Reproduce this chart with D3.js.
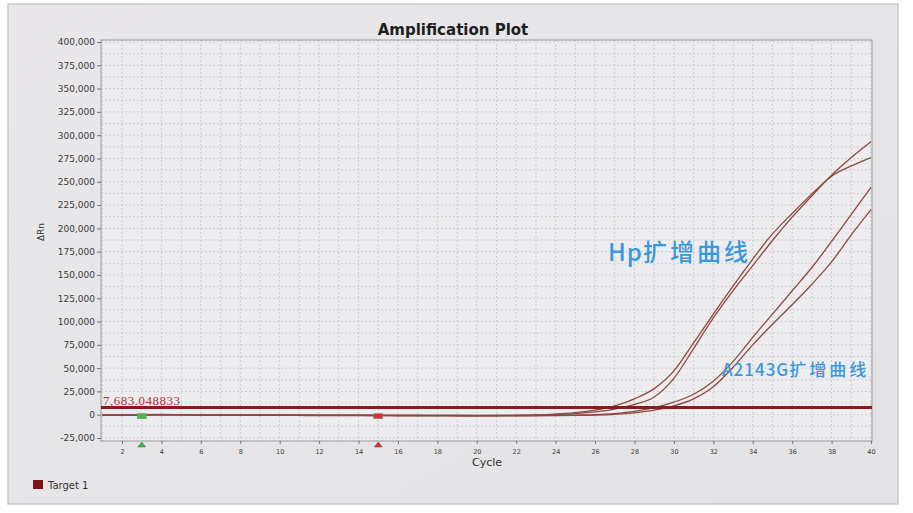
<!DOCTYPE html>
<html>
<head>
<meta charset="utf-8">
<script src="https://cdn.jsdelivr.net/npm/d3@7"></script>
<style>
  html, body { margin: 0; padding: 0; background: #ffffff; }
  svg { display: block; }
</style>
</head>
<body>
<svg id="chart" width="913" height="513"></svg>
<script>
// ---------- data ----------
const cycles = d3.range(1, 41);
const hpCurve1 = [-300,-200,0,100,0,-100,-200,-300,-300,-400,-400,-500,-500,-600,-600,-700,-700,-800,-800,-900,-800,-600,-300,
  600,2200,5000,9500,17000,28000,47000,77000,108000,138000,167000,194000,216000,237000,256000,267000,276000];
const hpCurve2 = [-600,-500,-300,-200,-300,-400,-500,-600,-700,-700,-800,-900,-900,-1000,-1000,-1100,-1100,-1200,-1200,-1200,-1100,-900,-600,
  200,1200,3000,6000,11000,19000,39000,71000,104000,133000,160000,187000,212000,235000,257000,276000,293000];
const a2143gCurve1 = [-200,-100,100,200,100,0,-100,-200,-200,-300,-300,-400,-400,-500,-500,-600,-600,-700,-700,-800,-800,-800,-700,-600,-400,
  0,1200,3500,7500,13500,22000,36000,57000,83000,108000,133000,158000,186000,215000,244000];
const a2143gCurve2 = [-500,-400,-200,-100,-200,-300,-400,-500,-500,-600,-700,-700,-800,-800,-900,-900,-1000,-1000,-1100,-1100,-1200,-1200,-1100,-1000,-800,
  -500,300,2000,4800,9500,17000,30000,51000,75000,97000,118000,140000,164000,193000,220000];
const threshold = 7683.048833;
const thresholdLabel = "7,683.048833";
const xTicks = d3.range(2, 41, 2);
const yTicks = d3.range(-25000, 400001, 25000);
const baselineStart = 3, baselineEnd = 15;
const seriesList = [hpCurve1, hpCurve2, a2143gCurve1, a2143gCurve2];

// ---------- layout ----------
const svg = d3.select("#chart");
const plot = { left: 101, right: 872, top: 40, bottom: 441 };
const x = d3.scaleLinear().domain([1, 40]).range([102.3, 871]);
const y = d3.scaleLinear().domain([-25000, 400000]).range([438, 42]);

// panel background
const bg = svg.append("defs").append("linearGradient").attr("id", "bg").attr("x1", 0).attr("x2", 1).attr("y1", 0).attr("y2", 1);
bg.append("stop").attr("offset", "0%").attr("stop-color", "#e9e7ea");
bg.append("stop").attr("offset", "100%").attr("stop-color", "#e3e2e4");
svg.append("rect").attr("x", 8).attr("y", 4).attr("width", 890).attr("height", 500)
  .attr("fill", "url(#bg)").attr("stroke", "#c9c7ca").attr("stroke-width", 1.5);

// plot area
svg.append("rect").attr("x", plot.left).attr("y", plot.top)
  .attr("width", plot.right - plot.left).attr("height", plot.bottom - plot.top)
  .attr("fill", "#edecee");

// grid
const g = svg.append("g");
g.selectAll(".vg").data(d3.range(1, 41)).join("line")
  .attr("x1", d => x(d)).attr("x2", d => x(d))
  .attr("y1", plot.top).attr("y2", plot.bottom)
  .attr("stroke", "#c6c5c8").attr("stroke-width", 0.8).attr("stroke-dasharray", "2,2");
g.selectAll(".hg").data(d3.range(-25000, 400001, 12500)).join("line")
  .attr("x1", plot.left).attr("x2", plot.right)
  .attr("y1", d => y(d)).attr("y2", d => y(d))
  .attr("stroke", "#c6c5c8").attr("stroke-width", 0.8).attr("stroke-dasharray", "2,2");

// plot border
svg.append("rect").attr("x", plot.left).attr("y", plot.top)
  .attr("width", plot.right - plot.left).attr("height", plot.bottom - plot.top)
  .attr("fill", "none").attr("stroke", "#9a999c").attr("stroke-width", 1);

// y axis
const yAxis = svg.append("g").attr("transform", `translate(${plot.left},0)`)
  .call(d3.axisLeft(y).tickValues(yTicks).tickSize(4).tickPadding(2)
    .tickFormat(d => d3.format(",")(d).replace("−", "-")));
yAxis.select(".domain").remove();
yAxis.selectAll("line").attr("stroke", "#777");
yAxis.selectAll("text").attr("font-family", "DejaVu Sans, sans-serif").attr("font-size", 9).attr("fill", "#3a3a3a");

// x axis
const xAxis = svg.append("g").attr("transform", `translate(0,${plot.bottom})`)
  .call(d3.axisBottom(x).tickValues(xTicks).tickSize(3).tickPadding(5));
xAxis.select(".domain").remove();
xAxis.selectAll("line").attr("stroke", "#777");
xAxis.selectAll("text").attr("font-family", "DejaVu Sans, sans-serif").attr("font-size", 6.5).attr("fill", "#3a3a3a");

// axis titles
svg.append("text").attr("x", 487).attr("y", 466).attr("text-anchor", "middle")
  .attr("font-family", "DejaVu Sans, sans-serif").attr("font-size", 11).attr("fill", "#333").text("Cycle");
svg.append("text").attr("transform", "translate(44,232) rotate(-90)").attr("text-anchor", "middle")
  .attr("font-family", "DejaVu Sans, sans-serif").attr("font-size", 9).attr("fill", "#333").text("ΔRn");
svg.append("text").attr("x", 453).attr("y", 35).attr("text-anchor", "middle")
  .attr("font-family", "DejaVu Sans, sans-serif").attr("font-weight", "bold").attr("font-size", 15)
  .attr("fill", "#1e1e1e").text("Amplification Plot");

// curves
const line = d3.line().x((d, i) => x(cycles[i])).y(d => y(d)).curve(d3.curveMonotoneX);
svg.append("g").selectAll("path").data(seriesList).join("path")
  .attr("d", line).attr("fill", "none").attr("stroke", "#8e4843").attr("stroke-width", 1.3);

// threshold
svg.append("line").attr("x1", plot.left).attr("x2", plot.right)
  .attr("y1", y(threshold)).attr("y2", y(threshold))
  .attr("stroke", "#8b1a1e").attr("stroke-width", 3);
svg.append("text").attr("x", 103).attr("y", y(threshold) - 2.5)
  .attr("font-family", "Liberation Serif, serif").attr("font-size", 13).attr("letter-spacing", 0.5)
  .attr("fill", "#b0333a").text(thresholdLabel);

// baseline markers
const markers = [{c: baselineStart, col: "#3fbf3f"}, {c: baselineEnd, col: "#d83030"}];
markers.forEach(m => {
  svg.append("rect").attr("x", x(m.c) - 4.5).attr("y", y(0) - 1).attr("width", 9).attr("height", 5)
    .attr("fill", m.col).attr("stroke", "#888").attr("stroke-width", 0.6);
  const tx = x(m.c), ty = plot.bottom;
  svg.append("path").attr("d", `M${tx - 4},${ty + 6} L${tx},${ty + 1} L${tx + 4},${ty + 6} Z`)
    .attr("fill", m.col).attr("stroke", "#555").attr("stroke-width", 0.5);
});

// annotations
const hp = svg.append("text").attr("x", 608).attr("y", 261)
  .attr("font-family", "Noto Sans CJK SC, sans-serif").attr("font-size", 24).attr("font-weight", 500)
  .attr("fill", "#3a98dc");
hp.append("tspan").attr("letter-spacing", 1).text("Hp");
hp.append("tspan").attr("letter-spacing", 3).text("扩增曲线");
const ag = svg.append("text").attr("x", 722).attr("y", 375.5)
  .attr("font-family", "Noto Sans CJK SC, sans-serif").attr("font-size", 17).attr("font-weight", 500)
  .attr("fill", "#3a98dc");
ag.append("tspan").attr("letter-spacing", 1).text("A2143G");
ag.append("tspan").attr("letter-spacing", 3).text("扩增曲线");

// legend
svg.append("rect").attr("x", 33).attr("y", 480).attr("width", 10).attr("height", 9).attr("fill", "#7a1215");
svg.append("text").attr("x", 48).attr("y", 488.5)
  .attr("font-family", "DejaVu Sans, sans-serif").attr("font-size", 10).attr("fill", "#333").text("Target 1");
</script>
</body>
</html>
